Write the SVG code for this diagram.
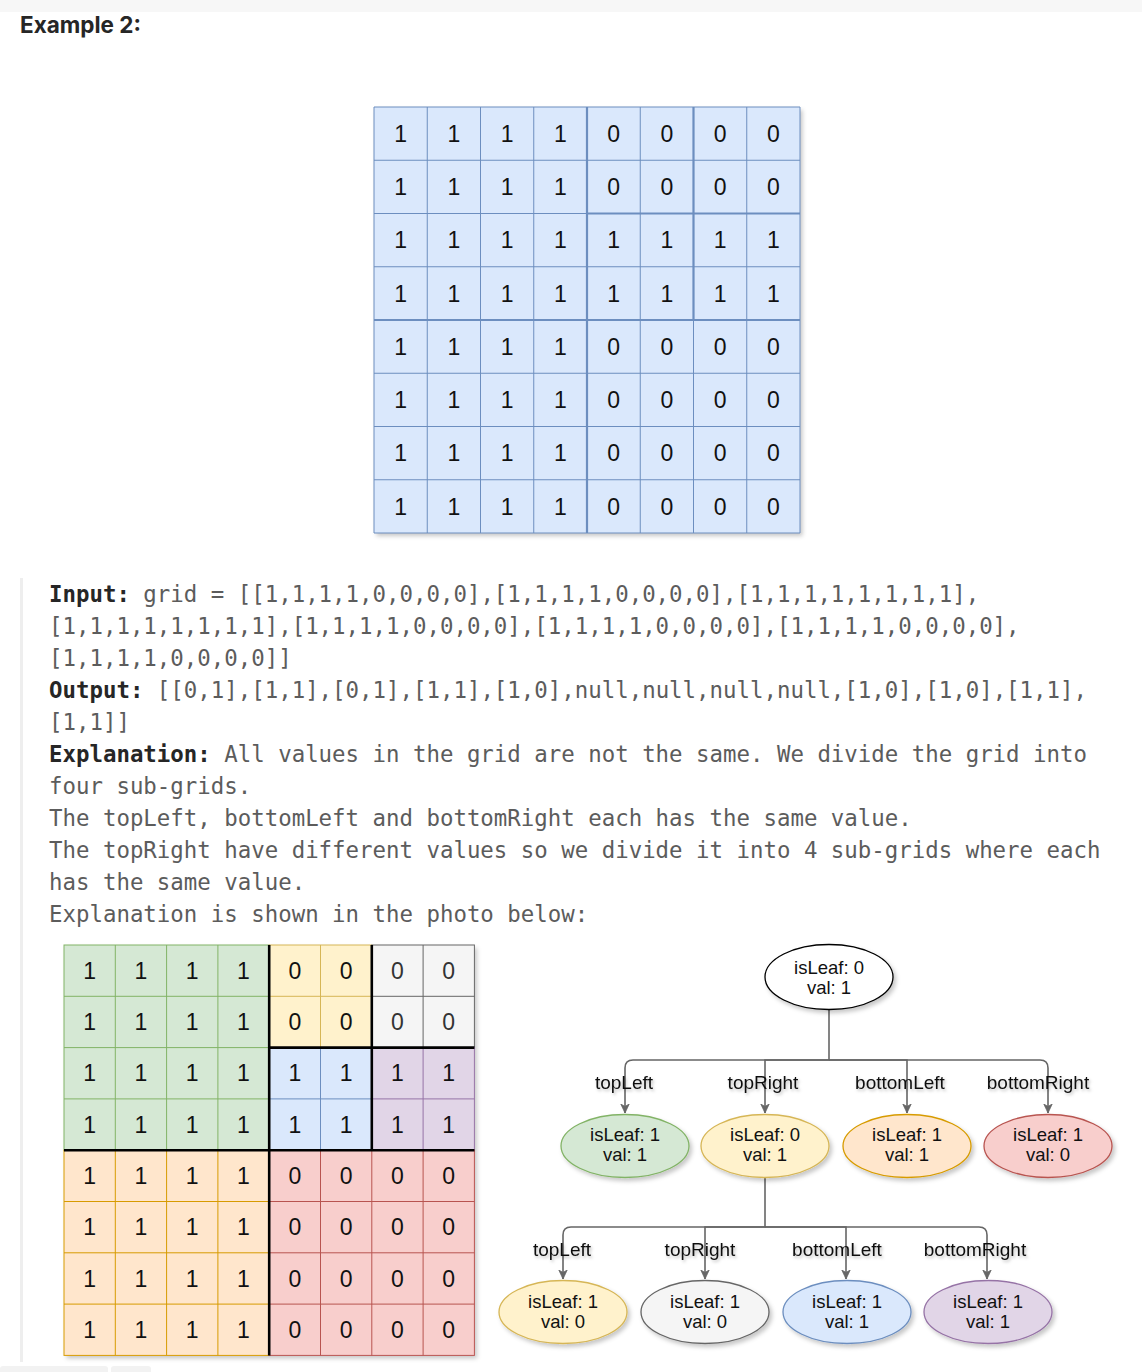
<svg xmlns="http://www.w3.org/2000/svg" width="1142" height="1372" viewBox="0 0 1142 1372">
<style>
.mono{font-family:"DejaVu Sans Mono","Liberation Mono",monospace;font-size:22.4px;fill:#5c5c5c;}
.mono .b{font-weight:bold;fill:#262626;}
.dig{font-family:"Liberation Sans","Noto Sans",sans-serif;font-size:23px;fill:#111;text-anchor:middle;}
.nt{font-family:"Liberation Sans","Noto Sans",sans-serif;font-size:18.5px;fill:#111;text-anchor:middle;}
.lbl{font-family:"Liberation Sans","Noto Sans",sans-serif;font-size:19px;fill:#111;text-anchor:middle;}
.edge{fill:none;stroke:#666;stroke-width:1.6;}
.thin{fill:none;stroke-width:1;}
</style>
<defs>
<filter id="sh" x="-20%" y="-20%" width="150%" height="150%">
<feDropShadow dx="2.5" dy="3" stdDeviation="2" flood-color="#000" flood-opacity="0.22"/>
</filter>
<filter id="tsh" x="-10%" y="-30%" width="130%" height="170%">
<feDropShadow dx="1.5" dy="2" stdDeviation="1.5" flood-color="#000" flood-opacity="0.25"/>
</filter>
<marker id="arr" markerWidth="10" markerHeight="10" refX="9" refY="5" orient="auto" markerUnits="userSpaceOnUse">
<path d="M0,0.8 L9,5 L0,9.2 L2.5,5 Z" fill="#666" stroke="#666" stroke-width="0.8"/>
</marker>
</defs>
<rect x="0" y="0" width="1142" height="1372" fill="#ffffff"/>
<rect x="0" y="0" width="1142" height="12" fill="#f7f7f7"/>
<text x="20" y="33" font-family="Inter,'Liberation Sans',sans-serif" font-weight="700" font-size="22.5" fill="#262626">Example 2:</text>

<g id="input-grid">
<rect x="374" y="107" width="426" height="426" fill="#dae8fc" filter="url(#sh)"/>
<path class="thin" stroke="#6c8ebf" d="M374,107H800V533H374Z M427.25,107V533 M480.5,107V533 M533.75,107V533 M640.25,107V533 M693.5,107V533 M746.75,107V533 M374,160.25H800 M374,213.5H800 M374,266.75H800 M374,373.25H800 M374,426.5H800 M374,479.75H800"/>
<path fill="none" stroke="#6c8ebf" stroke-width="2.2" d="M587,107V533 M374,320H800 M693.5,107V320 M587,213.5H800"/>
<text class="dig" x="400.6 453.9 507.1 560.4 613.6 666.9 720.1 773.4" y="141.8">11110000</text>
<text class="dig" x="400.6 453.9 507.1 560.4 613.6 666.9 720.1 773.4" y="195.1">11110000</text>
<text class="dig" x="400.6 453.9 507.1 560.4 613.6 666.9 720.1 773.4" y="248.3">11111111</text>
<text class="dig" x="400.6 453.9 507.1 560.4 613.6 666.9 720.1 773.4" y="301.6">11111111</text>
<text class="dig" x="400.6 453.9 507.1 560.4 613.6 666.9 720.1 773.4" y="354.8">11110000</text>
<text class="dig" x="400.6 453.9 507.1 560.4 613.6 666.9 720.1 773.4" y="408.1">11110000</text>
<text class="dig" x="400.6 453.9 507.1 560.4 613.6 666.9 720.1 773.4" y="461.3">11110000</text>
<text class="dig" x="400.6 453.9 507.1 560.4 613.6 666.9 720.1 773.4" y="514.6">11110000</text>
</g>

<rect x="20" y="578" width="3" height="784" fill="#eeeeee"/>
<g id="description" class="mono">
<text x="49" y="602"><tspan class="b">Input:</tspan> grid = [[1,1,1,1,0,0,0,0],[1,1,1,1,0,0,0,0],[1,1,1,1,1,1,1,1],</text>
<text x="49" y="634">[1,1,1,1,1,1,1,1],[1,1,1,1,0,0,0,0],[1,1,1,1,0,0,0,0],[1,1,1,1,0,0,0,0],</text>
<text x="49" y="666">[1,1,1,1,0,0,0,0]]</text>
<text x="49" y="698"><tspan class="b">Output:</tspan> [[0,1],[1,1],[0,1],[1,1],[1,0],null,null,null,null,[1,0],[1,0],[1,1],</text>
<text x="49" y="730">[1,1]]</text>
<text x="49" y="762"><tspan class="b">Explanation:</tspan> All values in the grid are not the same. We divide the grid into</text>
<text x="49" y="794">four sub-grids.</text>
<text x="49" y="826">The topLeft, bottomLeft and bottomRight each has the same value.</text>
<text x="49" y="858">The topRight have different values so we divide it into 4 sub-grids where each</text>
<text x="49" y="890">has the same value.</text>
<text x="49" y="922">Explanation is shown in the photo below:</text>
</g>

<g id="explained-grid">
<rect x="64" y="945" width="410.4" height="410.4" fill="#fff" filter="url(#sh)"/>
<g id="q-topLeft">
<rect x="64" y="945" width="205.2" height="205.2" fill="#d5e8d4" stroke="#82b366"/>
<path class="thin" stroke="#82b366" d="M115.3,945V1150.2 M166.6,945V1150.2 M217.9,945V1150.2 M64,996.3H269.2 M64,1047.6H269.2 M64,1098.9H269.2"/>
</g>
<g id="q-tr-topLeft">
<rect x="269.2" y="945" width="102.6" height="102.6" fill="#fff2cc" stroke="#d6b656"/>
<path class="thin" stroke="#d6b656" d="M320.5,945V1047.6 M269.2,996.3H371.8"/>
</g>
<g id="q-tr-topRight">
<rect x="371.8" y="945" width="102.6" height="102.6" fill="#f5f5f5" stroke="#666666"/>
<path class="thin" stroke="#666666" d="M423.1,945V1047.6 M371.8,996.3H474.4"/>
</g>
<g id="q-tr-bottomLeft">
<rect x="269.2" y="1047.6" width="102.6" height="102.6" fill="#dae8fc" stroke="#6c8ebf"/>
<path class="thin" stroke="#6c8ebf" d="M320.5,1047.6V1150.2 M269.2,1098.9H371.8"/>
</g>
<g id="q-tr-bottomRight">
<rect x="371.8" y="1047.6" width="102.6" height="102.6" fill="#e1d5e7" stroke="#9673a6"/>
<path class="thin" stroke="#9673a6" d="M423.1,1047.6V1150.2 M371.8,1098.9H474.4"/>
</g>
<g id="q-bottomLeft">
<rect x="64" y="1150.2" width="205.2" height="205.2" fill="#ffe6cc" stroke="#d79b00"/>
<path class="thin" stroke="#d79b00" d="M115.3,1150.2V1355.4 M166.6,1150.2V1355.4 M217.9,1150.2V1355.4 M64,1201.5H269.2 M64,1252.8H269.2 M64,1304.1H269.2"/>
</g>
<g id="q-bottomRight">
<rect x="269.2" y="1150.2" width="205.2" height="205.2" fill="#f8cecc" stroke="#b85450"/>
<path class="thin" stroke="#b85450" d="M320.5,1150.2V1355.4 M371.8,1150.2V1355.4 M423.1,1150.2V1355.4 M269.2,1201.5H474.4 M269.2,1252.8H474.4 M269.2,1304.1H474.4"/>
</g>
<path fill="none" stroke="#000" stroke-width="2.6" d="M269.2,945V1355.4 M64,1150.2H474.4 M371.8,945V1150.2 M269.2,1047.6H474.4"/>
<text class="dig" x="89.6 140.9 192.2 243.5 294.8 346.1 397.4 448.7" y="978.8">111100<tspan fill="#333">00</tspan></text>
<text class="dig" x="89.6 140.9 192.2 243.5 294.8 346.1 397.4 448.7" y="1030.1">111100<tspan fill="#333">00</tspan></text>
<text class="dig" x="89.6 140.9 192.2 243.5 294.8 346.1 397.4 448.7" y="1081.4">11111111</text>
<text class="dig" x="89.6 140.9 192.2 243.5 294.8 346.1 397.4 448.7" y="1132.7">11111111</text>
<text class="dig" x="89.6 140.9 192.2 243.5 294.8 346.1 397.4 448.7" y="1184">11110000</text>
<text class="dig" x="89.6 140.9 192.2 243.5 294.8 346.1 397.4 448.7" y="1235.3">11110000</text>
<text class="dig" x="89.6 140.9 192.2 243.5 294.8 346.1 397.4 448.7" y="1286.6">11110000</text>
<text class="dig" x="89.6 140.9 192.2 243.5 294.8 346.1 397.4 448.7" y="1337.9">11110000</text>
</g>

<g id="connectors">
<path class="edge" marker-end="url(#arr)" d="M829,1010V1060H633Q625,1060 625,1068V1113"/>
<path class="edge" marker-end="url(#arr)" d="M829,1060H765V1113"/>
<path class="edge" marker-end="url(#arr)" d="M829,1060H907V1113"/>
<path class="edge" marker-end="url(#arr)" d="M829,1060H1040Q1048,1060 1048,1068V1113"/>
<path class="edge" marker-end="url(#arr)" d="M765,1178V1227H571Q563,1227 563,1235V1279"/>
<path class="edge" marker-end="url(#arr)" d="M765,1227H705V1279"/>
<path class="edge" marker-end="url(#arr)" d="M765,1227H846V1279"/>
<path class="edge" marker-end="url(#arr)" d="M765,1227H979Q987,1227 987,1235V1279"/>
<g filter="url(#tsh)">
<text class="lbl" x="624" y="1089">topLeft</text>
<text class="lbl" x="763" y="1089">topRight</text>
<text class="lbl" x="900" y="1089">bottomLeft</text>
<text class="lbl" x="1038" y="1089">bottomRight</text>
<text class="lbl" x="562" y="1256">topLeft</text>
<text class="lbl" x="700" y="1256">topRight</text>
<text class="lbl" x="837" y="1256">bottomLeft</text>
<text class="lbl" x="975" y="1256">bottomRight</text>
</g>
</g>

<g id="root">
<ellipse cx="829" cy="977" rx="64" ry="32.5" fill="#fff" stroke="#000" stroke-width="1.3" filter="url(#sh)"/>
<text class="nt" x="829" y="973.5">isLeaf: 0</text>
<text class="nt" x="829" y="993.5">val: 1</text>
</g>
<g id="n-topLeft">
<ellipse cx="625" cy="1146" rx="64" ry="31.5" fill="#d5e8d4" stroke="#82b366" stroke-width="1.3" filter="url(#sh)"/>
<text class="nt" x="625" y="1140.5">isLeaf: 1</text>
<text class="nt" x="625" y="1160.5">val: 1</text>
</g>
<g id="n-topRight">
<ellipse cx="765" cy="1146" rx="64" ry="31.5" fill="#fff2cc" stroke="#d6b656" stroke-width="1.3" filter="url(#sh)"/>
<text class="nt" x="765" y="1140.5">isLeaf: 0</text>
<text class="nt" x="765" y="1160.5">val: 1</text>
</g>
<g id="n-bottomLeft">
<ellipse cx="907" cy="1146" rx="64" ry="31.5" fill="#ffe6cc" stroke="#d79b00" stroke-width="1.3" filter="url(#sh)"/>
<text class="nt" x="907" y="1140.5">isLeaf: 1</text>
<text class="nt" x="907" y="1160.5">val: 1</text>
</g>
<g id="n-bottomRight">
<ellipse cx="1048" cy="1146" rx="64" ry="31.5" fill="#f8cecc" stroke="#b85450" stroke-width="1.3" filter="url(#sh)"/>
<text class="nt" x="1048" y="1140.5">isLeaf: 1</text>
<text class="nt" x="1048" y="1160.5">val: 0</text>
</g>
<g id="n-tr-topLeft">
<ellipse cx="563" cy="1312" rx="64" ry="31.5" fill="#fff2cc" stroke="#d6b656" stroke-width="1.3" filter="url(#sh)"/>
<text class="nt" x="563" y="1307.5">isLeaf: 1</text>
<text class="nt" x="563" y="1327.5">val: 0</text>
</g>
<g id="n-tr-topRight">
<ellipse cx="705" cy="1312" rx="64" ry="31.5" fill="#f5f5f5" stroke="#666666" stroke-width="1.3" filter="url(#sh)"/>
<text class="nt" x="705" y="1307.5" fill="#333">isLeaf: 1</text>
<text class="nt" x="705" y="1327.5" fill="#333">val: 0</text>
</g>
<g id="n-tr-bottomLeft">
<ellipse cx="847" cy="1312" rx="64" ry="31.5" fill="#dae8fc" stroke="#6c8ebf" stroke-width="1.3" filter="url(#sh)"/>
<text class="nt" x="847" y="1307.5">isLeaf: 1</text>
<text class="nt" x="847" y="1327.5">val: 1</text>
</g>
<g id="n-tr-bottomRight">
<ellipse cx="988" cy="1312" rx="64" ry="31.5" fill="#e1d5e7" stroke="#9673a6" stroke-width="1.3" filter="url(#sh)"/>
<text class="nt" x="988" y="1307.5">isLeaf: 1</text>
<text class="nt" x="988" y="1327.5">val: 1</text>
</g>
<rect x="0" y="1366" width="108" height="8" rx="3" fill="#f2f2f2"/>
<rect x="111" y="1366" width="40" height="8" rx="3" fill="#f2f2f2"/>
</svg>
